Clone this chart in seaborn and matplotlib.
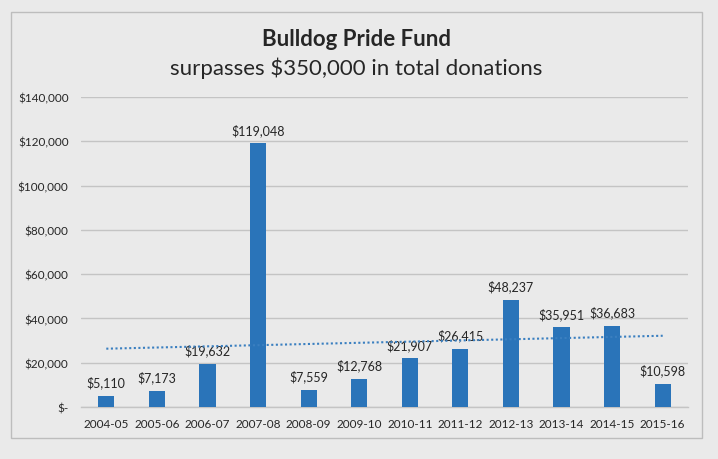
import matplotlib
matplotlib.use("Agg")
import matplotlib.pyplot as plt
import seaborn as sns
import numpy as np
import pandas as pd
from matplotlib.patches import Rectangle

categories = ["2004-05", "2005-06", "2006-07", "2007-08", "2008-09", "2009-10",
              "2010-11", "2011-12", "2012-13", "2013-14", "2014-15", "2015-16"]
donations = [5110, 7173, 19632, 119048, 7559, 12768, 21907, 26415, 48237, 35951, 36683, 10598]
y_ticks = [0, 20000, 40000, 60000, 80000, 100000, 120000, 140000]
title = "Bulldog Pride Fund"
subtitle = "surpasses $350,000 in total donations"

BG = "#EAEAEA"
BAR = "#2A74B9"
GRID = "#C4C4C4"
TXT = "#262626"

sns.set_theme(style="white")
plt.rcParams['font.family'] = ['Lato', 'DejaVu Sans']

fig = plt.figure(figsize=(7.18, 4.60), dpi=100, facecolor=BG)
# chart border
fig.patches.append(Rectangle((11/718, 1-439/460), (702-11)/718, (439-13)/460,
                             transform=fig.transFigure, facecolor=BG,
                             edgecolor="#BDBDBD", linewidth=1.0, zorder=-5))

ax = fig.add_axes([81/718, 1-408/460, (688-81)/718, (408-98)/460])
ax.set_zorder(5)
ax.set_facecolor("none")

df = pd.DataFrame({"season": categories, "amount": donations})
sns.barplot(data=df, x="season", y="amount", color=BAR, width=0.32,
            saturation=1, ax=ax, zorder=3, linewidth=0, edgecolor="none")

# linear trendline
idx = np.arange(len(donations))
coef = np.polyfit(idx, donations, 1)
ax.plot(idx, np.polyval(coef, idx), linestyle=(0, (1, 1.2)), color="#3A7FC0",
        linewidth=1.5, zorder=4)

ax.set_ylim(0, 140000)
ax.set_xlim(-0.5, len(categories) - 0.5)
ax.set_yticks(y_ticks)
ax.set_yticklabels(["$-" if v == 0 else f"${v:,.0f}" for v in y_ticks])
ax.yaxis.grid(True, color=GRID, linewidth=1.0, zorder=0)
ax.set_axisbelow(True)
for s in ["top", "right", "left"]:
    ax.spines[s].set_visible(False)
ax.spines["bottom"].set_color(GRID)
ax.spines["bottom"].set_linewidth(1.0)
ax.tick_params(axis="both", length=0, labelsize=8.5, colors=TXT)
ax.tick_params(axis="y", pad=9)
ax.tick_params(axis="x", pad=8)
ax.set_xlabel("")
ax.set_ylabel("")

for i, v in enumerate(donations):
    ax.annotate(f"${v:,.0f}", (i, v), xytext=(0, 7), textcoords="offset points",
                ha="center", va="baseline", fontsize=9, color=TXT)

cx = (11 + 702) / 2 / 718
fig.text(cx, 1 - 46/460, title, ha="center", va="baseline", fontsize=16,
         fontweight="bold", color=TXT)
fig.text(cx, 1 - 75/460, subtitle, ha="center", va="baseline", fontsize=16,
         color=TXT)

fig.savefig("out.png", dpi=100, facecolor=BG)
